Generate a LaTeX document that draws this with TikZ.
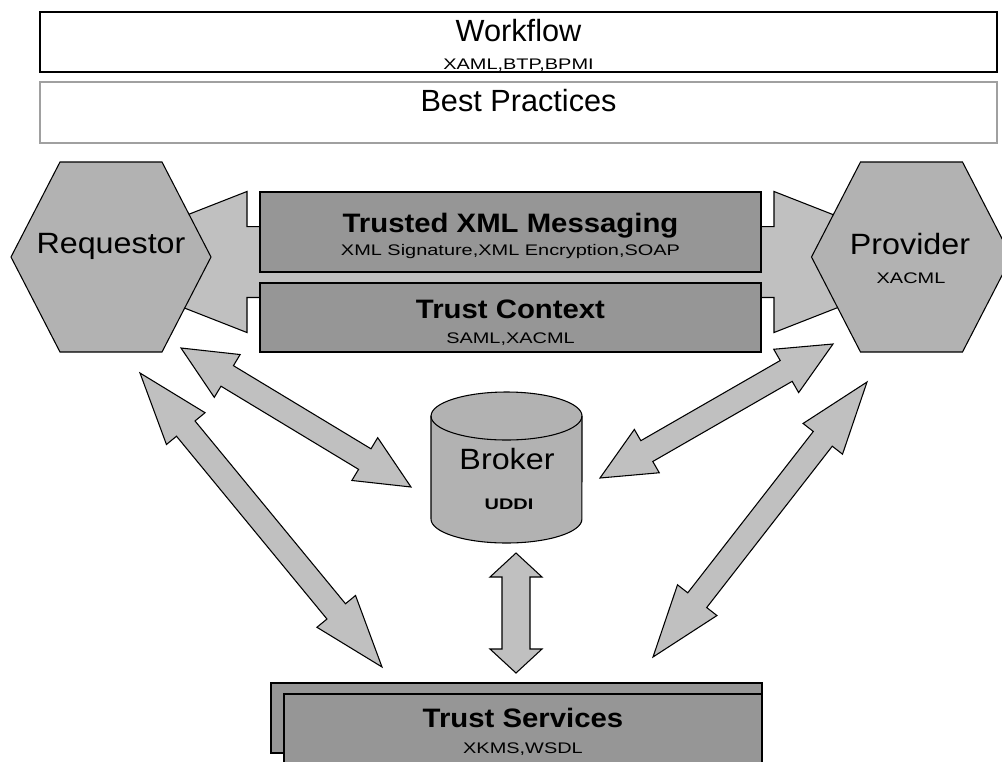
\documentclass[tikz,border=0pt]{standalone}
\usepackage{fontspec}
\setmainfont{Liberation Sans}
\newfontfamily\widefont[FakeStretch=1.1]{Liberation Sans}
\newfontfamily\smallfont[FakeStretch=1.3]{Liberation Sans}
\usetikzlibrary{calc}
\definecolor{hexgray}{RGB}{178,178,178}
\definecolor{boxgray}{RGB}{150,150,150}
\definecolor{arrowgray}{RGB}{192,192,192}
\definecolor{linegray}{RGB}{160,160,160}

\tikzset{
  barrow/.style={draw=black, fill=arrowgray, line width=0.8pt, line join=miter},
  hexfill/.style={draw=black, fill=hexgray, line width=0.8pt},
  darkbox/.style={draw=black, fill=boxgray, line width=0.8pt},
  bigtext/.style={anchor=base, inner sep=0pt, font=\fontsize{23}{27}\selectfont},
  roletext/.style={anchor=base, inner sep=0pt, font=\widefont\fontsize{22}{26}\selectfont},
  boldtext/.style={anchor=base, inner sep=0pt, font=\widefont\bfseries\fontsize{20}{24}\selectfont},
  smalltext/.style={anchor=base, inner sep=0pt, font=\smallfont\fontsize{11.5}{14}\selectfont},
}

% from, to, head length, head half width, shaft half width
\newcommand{\blockarrow}[5]{%
  \draw[barrow] let \p1=($(#2)-(#1)$), \n1={atan2(\y1,\x1)}, \n2={veclen(\x1,\y1)} in
    [shift={(#1)}, rotate=\n1]
    (0pt,0pt) -- (#3,#4) -- (#3,#5) -- ({\n2-#3},#5) -- ({\n2-#3},#4) -- ({\n2+0pt},0pt)
    -- ({\n2-#3},-#4) -- ({\n2-#3},-#5) -- (#3,-#5) -- (#3,-#4) -- cycle;}
\newcommand{\hexagonat}[1]{%
  \draw[hexfill] ($(#1)+(-100,0)$) -- ++(49,-95) -- ++(102,0) -- ++(49,95)
    -- ++(-49,95) -- ++(-102,0) -- cycle;}

\begin{document}
\begin{tikzpicture}[x=0.75pt, y=-0.75pt]
\useasboundingbox (0,0) rectangle (1002,761);
\clip (0,0) rectangle (1002,761);

\draw[line width=1.5pt] (40,12) rectangle (997,72);
\draw[draw=linegray, line width=1.5pt] (40,82) rectangle (997,143);

\coordinate (rp1) at (67,262);
\coordinate (rp2) at (954,262);
\blockarrow{rp1}{rp2}{135pt}{52.9pt}{26.6pt}

\coordinate (R) at (111,257);
\coordinate (P) at (911.5,257);
\hexagonat{R}
\hexagonat{P}

\draw[darkbox] (260,192) rectangle (761,272);
\draw[darkbox] (260,283) rectangle (761,352);

\coordinate (rb1) at (181,348);
\coordinate (rb2) at (411,487);
\coordinate (rs1) at (140,373);
\coordinate (rs2) at (382,667);
\coordinate (pb1) at (833,344);
\coordinate (pb2) at (600,478);
\coordinate (ps1) at (867,382);
\coordinate (ps2) at (653,657);
\coordinate (bs1) at (516,553);
\coordinate (bs2) at (516,673);
\blockarrow{rb1}{rb2}{40.5pt}{18.75pt}{9pt}
\blockarrow{rs1}{rs2}{54pt}{18.75pt}{9pt}
\blockarrow{pb1}{pb2}{40.5pt}{18.75pt}{9pt}
\blockarrow{ps1}{ps2}{54pt}{18.75pt}{9pt}
\blockarrow{bs1}{bs2}{18pt}{19.5pt}{10.5pt}

\draw[hexfill] (431,416) -- (431,519) arc[start angle=180, end angle=360, x radius=56.6pt, y radius=18pt]
  -- (582,416) arc[start angle=0, end angle=180, x radius=56.6pt, y radius=18pt] -- cycle;
\draw[line width=0.8pt] (431,416) arc[start angle=180, end angle=360, x radius=56.6pt, y radius=18pt];

\draw[darkbox] (271,683) rectangle (762,753);
\draw[darkbox] (284,694) rectangle (762,780);

\node[bigtext] (W) at (518.5,41) {Workflow};
\node[smalltext] (Wsub) at (518.5,69) {XAML,BTP,BPMI};
\node[bigtext] (BP) at (518.5,111) {Best Practices};
\node[roletext] (Req) at (111,253) {Requestor};
\node[roletext] (Prov) at (910,254) {Provider};
\node[smalltext] (Provsub) at (911,283) {XACML};
\node[boldtext] (TX) at (510.5,232) {Trusted XML Messaging};
\node[smalltext] (TXsub) at (510.5,255) {XML Signature,XML Encryption,SOAP};
\node[boldtext] (TC) at (510.5,318) {Trust Context};
\node[smalltext] (TCsub) at (510.5,343) {SAML,XACML};
\node[roletext] (Br) at (507,469) {Broker};
\node[smalltext, font=\smallfont\bfseries\fontsize{11.5}{14}\selectfont] (Brsub) at (509,509) {UDDI};
\node[boldtext] (TS) at (523,727) {Trust Services};
\node[smalltext] (TSsub) at (523,753) {XKMS,WSDL};
\end{tikzpicture}
\end{document}
